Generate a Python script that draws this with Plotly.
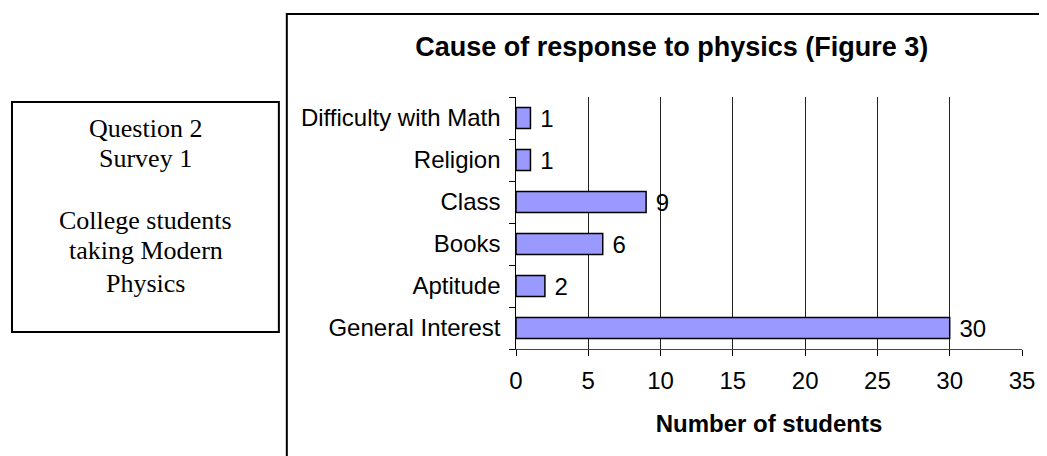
import plotly.graph_objs as go

# bottom to top, like the excel chart
categories = ["General Interest", "Aptitude", "Books", "Class", "Religion", "Difficulty with Math"]
students = [30, 2, 6, 9, 1, 1]
x_ticks = [0, 5, 10, 15, 20, 25, 30, 35]
box_lines = ["Question 2", "Survey 1", "", "College students", "taking Modern", "Physics"]

# page has an 8px body margin, so shift everything back by that
O = 8
W, H = 1047 - O, 456 - O
L, R, T, B = 516, 1026, 97, 349


def px(p):
    return (p - L) / (R - L)


def py(p):
    return (B - p) / (B - T)


fig = go.Figure()
fig.add_trace(go.Bar(
    y=categories,
    x=students,
    orientation="h",
    width=0.5,
    marker=dict(color="#9999FF", line=dict(color="black", width=1.5)),
    texttemplate=" %{x}",
    textposition="outside",
    constraintext="none",
    textfont=dict(family="Arial, Liberation Sans", size=24, color="black"),
    cliponaxis=False,
))

fig.update_layout(
    width=W, height=H,
    margin=dict(l=L - O, r=1047 - R, t=T - O, b=456 - B, pad=0),
    paper_bgcolor="white",
    plot_bgcolor="white",
    showlegend=False,
    font=dict(family="Arial, Liberation Sans", size=24, color="black"),
    title=dict(
        text="<b>Cause of response to physics (Figure 3)</b>",
        x=px(673), xref="paper", xanchor="center",
        y=1 - (47 - O) / H, yanchor="middle",
        font=dict(size=27, family="Arial, Liberation Sans", color="black"),
    ),
    xaxis=dict(
        range=[0, 35],
        tickvals=x_ticks,
        showgrid=True, gridcolor="#222222", gridwidth=1,
        showline=True, linecolor="#444444", linewidth=1,
        ticks="outside", ticklen=6, tickcolor="black",
        ticklabelstandoff=4,
        zeroline=False,
        title=dict(text="<b>Number of students</b>", font=dict(size=24), standoff=22),
    ),
    yaxis=dict(
        showline=True, linecolor="black", linewidth=1,
        ticks="outside", ticklen=6, tickcolor="black",
        tickson="boundaries",
        showgrid=False,
        ticksuffix=" ",
        ticklabelstandoff=3,
    ),
    bargap=0.5,
)

# chart frame (right and bottom run off the page)
fig.add_shape(type="rect", xref="paper", yref="paper",
              x0=px(285), x1=px(1070), y0=py(480), y1=py(14),
              line=dict(color="black", width=2), fillcolor="rgba(0,0,0,0)", layer="below")

# left text box
fig.add_shape(type="rect", xref="paper", yref="paper",
              x0=px(8), x1=px(277), y0=py(332), y1=py(102),
              line=dict(color="black", width=2), fillcolor="rgba(0,0,0,0)")
line_y = [128, 158, 189, 220, 250, 283]
for txt, yy in zip(box_lines, line_y):
    if not txt:
        continue
    fig.add_annotation(
        xref="paper", yref="paper", x=px(143), y=py(yy),
        xanchor="center", yanchor="middle",
        text=txt, showarrow=False,
        font=dict(family="Times New Roman, Liberation Serif", size=26, color="black"),
    )

fig.write_html("out.html")
